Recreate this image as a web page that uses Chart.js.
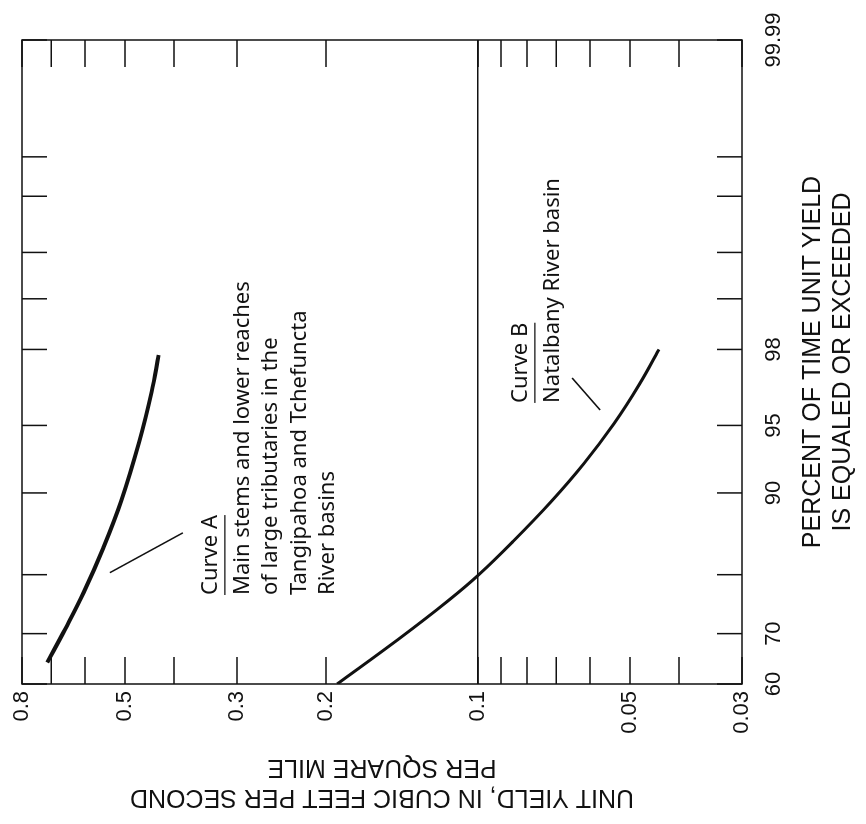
<!DOCTYPE html>
<html>
<head>
<meta charset="utf-8">
<title>Unit yield duration curves</title>
<script src="https://cdn.jsdelivr.net/npm/chart.js@4.4.1/dist/chart.umd.min.js"></script>
<style>
  html, body { margin: 0; padding: 0; background: #fff; }
  body { width: 866px; height: 824px; overflow: hidden; position: relative; }
  /* the figure is laid out upright and then turned a quarter turn to the left */
  #turn {
    position: absolute; left: 0; top: 0;
    width: 824px; height: 866px;
    transform-origin: 0 0;
    transform: translate(0, 824px) rotate(-90deg);
  }
</style>
</head>
<body>
<div id="turn"><canvas id="chart" width="824" height="866"></canvas></div>
<script>
// Curve A - main stems, Tangipahoa and Tchefuncta
const curveAPercent = [64.4, 70.85, 77.2, 83.8, 89.2, 94.0, 96.6, 97.85];
const curveAYield = [0.713, 0.657, 0.604, 0.552, 0.509, 0.469, 0.443, 0.429];

// Curve B - Natalbany River basin
const curveBPercent = [60, 68.9, 75.9, 80.1, 84.6, 89.1, 92.5, 95.1, 96.9, 98.0];
const curveBYield = [0.19, 0.144, 0.1144, 0.0993, 0.0853, 0.0718, 0.0617, 0.0538, 0.0479, 0.0438];

// probability axis
const percentTicks = [60, 70, 80, 90, 95, 98, 99, 99.5, 99.8, 99.9, 99.99];
const percentLabels = ['60', '70', '', '90', '95', '98', '', '', '', '', '99.99'];

// log axis
const yieldTicks = [0.03, 0.04, 0.05, 0.06, 0.07, 0.08, 0.09, 0.1, 0.2, 0.3, 0.4, 0.5, 0.6, 0.7, 0.8];
const yieldLabels = ['0.03', '', '0.05', '', '', '', '', '0.1', '0.2', '0.3', '', '0.5', '', '', '0.8'];

// leader lines from the notes to the curves
const leaderAPercent = [80.3, 85.7];
const leaderAYield = [0.536, 0.384];
const leaderBPercent = [97.13, 95.8];
const leaderBYield = [0.0651, 0.0573];

const noteALines = ['Curve A', 'Main stems and lower reaches', 'of large tributaries in the', 'Tangipahoa and Tchefuncta', 'River basins'];
const noteAAt = [76.8, 0.329];
const noteBLines = ['Curve B', 'Natalbany River basin'];
const noteBAt = [96.13, 0.08];

const ink = '#111';

// inverse of the normal distribution (Acklam's approximation)
function probit(p) {
  const a = [-39.69683028665376, 220.9460984245205, -275.9285104469687, 138.3577518672690, -30.66479806614716, 2.506628277459239];
  const b = [-54.47609879822406, 161.5858589208599, -155.6989798598866, 66.80131188771972, -13.28068155288572];
  const c = [-0.007784894002430293, -0.3223964580411365, -2.400758277161838, -2.549732539343734, 4.374664141464968, 2.938163982698783];
  const d = [0.007784695709041462, 0.3224671290700398, 2.445134137142996, 3.754408661907416];
  const lo = 0.02425;
  let q, r;
  if (p < lo) {
    q = Math.sqrt(-2 * Math.log(p));
    return (((((c[0]*q+c[1])*q+c[2])*q+c[3])*q+c[4])*q+c[5]) / ((((d[0]*q+d[1])*q+d[2])*q+d[3])*q+1);
  }
  if (p > 1 - lo) {
    q = Math.sqrt(-2 * Math.log(1 - p));
    return -(((((c[0]*q+c[1])*q+c[2])*q+c[3])*q+c[4])*q+c[5]) / ((((d[0]*q+d[1])*q+d[2])*q+d[3])*q+1);
  }
  q = p - 0.5; r = q * q;
  return (((((a[0]*r+a[1])*r+a[2])*r+a[3])*r+a[4])*r+a[5])*q / (((((b[0]*r+b[1])*r+b[2])*r+b[3])*r+b[4])*r+1);
}
const z = pct => probit(pct / 100);
const pts = (ps, ys) => ps.map((p, i) => ({ x: z(p), y: ys[i] }));

// box around the plot with the short tick marks pointing inward
const frameTicks = {
  id: 'frameTicks',
  afterDatasetsDraw(chart) {
    const { ctx, chartArea: a, scales: { x, y } } = chart;
    ctx.save();
    ctx.strokeStyle = ink;
    ctx.lineWidth = 1.5;
    ctx.strokeRect(a.left, a.top, a.right - a.left, a.bottom - a.top);
    ctx.beginPath();
    percentTicks.forEach(p => {
      const px = x.getPixelForValue(z(p));
      ctx.moveTo(px, a.bottom); ctx.lineTo(px, a.bottom - 25);
      ctx.moveTo(px, a.top); ctx.lineTo(px, a.top + 25);
    });
    yieldTicks.forEach(v => {
      const py = y.getPixelForValue(v);
      ctx.moveTo(a.left, py); ctx.lineTo(a.left + 27, py);
      ctx.moveTo(a.right, py); ctx.lineTo(a.right - 27, py);
    });
    ctx.stroke();
    ctx.restore();
  }
};

// curve notes, first line underlined
const notes = {
  id: 'notes',
  afterDatasetsDraw(chart) {
    const { ctx, scales: { x, y } } = chart;
    ctx.save();
    ctx.fillStyle = ink;
    ctx.strokeStyle = ink;
    ctx.lineWidth = 1.2;
    ctx.font = '22px "Noto Sans"';
    ctx.textAlign = 'left';
    ctx.textBaseline = 'alphabetic';
    [[noteALines, noteAAt], [noteBLines, noteBAt]].forEach(([lines, at]) => {
      const left = x.getPixelForValue(z(at[0]));
      let base = y.getPixelForValue(at[1]);
      lines.forEach((line, i) => {
        ctx.fillText(line, left, base);
        if (i === 0) {
          const w = ctx.measureText(line).width;
          ctx.beginPath();
          ctx.moveTo(left, base + 8);
          ctx.lineTo(left + w, base + 8);
          ctx.stroke();
          base += 32;
        } else {
          base += 28.5;
        }
      });
    });
    ctx.restore();
  }
};

const tickFont = { family: '"Liberation Sans", Arial, sans-serif', size: 22 };
const titleFont = { family: '"Liberation Sans", Arial, sans-serif', size: 25, lineHeight: 1.2 };

new Chart(document.getElementById('chart'), {
  type: 'line',
  data: {
    datasets: [
      { data: pts(curveAPercent, curveAYield), borderColor: ink, borderWidth: 4, pointRadius: 0, tension: 0.4 },
      { data: pts(curveBPercent, curveBYield), borderColor: ink, borderWidth: 3, pointRadius: 0, tension: 0.4 },
      { data: pts(leaderAPercent, leaderAYield), borderColor: ink, borderWidth: 1.5, pointRadius: 0 },
      { data: pts(leaderBPercent, leaderBYield), borderColor: ink, borderWidth: 1.5, pointRadius: 0 }
    ]
  },
  options: {
    responsive: false,
    animation: false,
    layout: { padding: { top: 22, right: 40, left: 0, bottom: 0 } },
    plugins: { legend: { display: false }, tooltip: { enabled: false } },
    scales: {
      x: {
        type: 'linear',
        min: z(60),
        max: z(99.99),
        afterBuildTicks: s => { s.ticks = percentTicks.map(p => ({ value: z(p) })); },
        afterFit: s => { s.height = 124; },
        grid: { display: false },
        border: { display: false },
        ticks: {
          autoSkip: false, maxRotation: 0, padding: 11, color: ink, font: tickFont,
          callback: (v, i) => percentLabels[i]
        },
        title: {
          display: true, color: ink, font: titleFont, padding: { top: 0, bottom: 8 },
          text: ['PERCENT OF TIME UNIT YIELD', 'IS EQUALED OR EXCEEDED']
        }
      },
      y: {
        type: 'logarithmic',
        min: 0.03,
        max: 0.8,
        afterBuildTicks: s => { s.ticks = yieldTicks.map(v => ({ value: v })); },
        afterFit: s => { s.width = 140; },
        grid: {
          drawTicks: false,
          lineWidth: 1.5,
          color: c => (c.tick && c.tick.value === 0.1 ? ink : 'rgba(0,0,0,0)')
        },
        border: { display: false },
        ticks: {
          autoSkip: false, padding: 7, color: ink, font: tickFont,
          callback: (v, i) => yieldLabels[i]
        },
        title: {
          display: true, color: ink, font: titleFont, padding: { top: 12, bottom: 0 },
          text: ['UNIT YIELD, IN CUBIC FEET PER SECOND', 'PER SQUARE MILE']
        }
      }
    }
  },
  plugins: [frameTicks, notes]
});
</script>
</body>
</html>
